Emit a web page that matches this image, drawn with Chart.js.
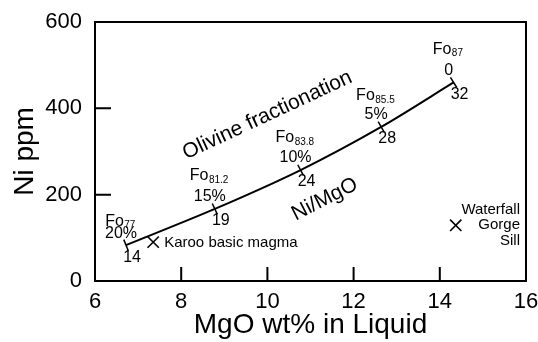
<!DOCTYPE html>
<html>
<head>
<meta charset="utf-8">
<script src="https://cdn.jsdelivr.net/npm/chart.js@4.4.1/dist/chart.umd.min.js"></script>
<style>
  html, body { margin: 0; padding: 0; background: #fff; }
  #wrap { width: 538px; height: 342px; }
</style>
</head>
<body>
<div id="wrap"><canvas id="niChart" width="538" height="342"></canvas></div>
<script>
// ---------------- data ----------------
var mgo = [6.72, 8.78, 10.77, 12.64, 14.32];
var ni = [83, 167, 257, 357, 460];
var foNumbers = ["77", "81.2", "83.8", "85.5", "87"];
var fractionation = ["20%", "15%", "10%", "5%", "0"];
var niMgoRatio = ["14", "19", "24", "28", "32"];

var sampleNames = ["Karoo basic magma", "Waterfall Gorge Sill"];
var sampleMgo = [7.35, 14.37];
var sampleNi = [90, 129];

var xTicks = [6, 8, 10, 12, 14, 16];
var yTicks = [0, 200, 400, 600];

var FONT = "'Liberation Sans', Arial, Helvetica, sans-serif";

// ---------------- frame, inward ticks and text labels ----------------
var framePlugin = {
    id: "frame",
    afterDatasetsDraw: function (chart) {
        var c = chart.ctx;
        var a = chart.chartArea;
        var xs = chart.scales.x, ys = chart.scales.y;
        c.save();
        c.strokeStyle = "#000";
        c.lineWidth = 2;
        c.strokeRect(a.left, a.top, a.right - a.left, a.bottom - a.top);

        // inward ticks
        c.beginPath();
        xTicks.slice(1, -1).forEach(function (v) {
            var px = xs.getPixelForValue(v);
            c.moveTo(px, a.bottom);
            c.lineTo(px, a.bottom - 14);
        });
        yTicks.slice(1, -1).forEach(function (v) {
            var py = ys.getPixelForValue(v);
            c.moveTo(a.left, py);
            c.lineTo(a.left + 16, py);
        });
        c.stroke();

        c.fillStyle = "#000";
        c.textBaseline = "middle";

        // Fo / % / ratio labels around each point of the curve
        var pts = chart.getDatasetMeta(0).data;
        var foDy = [-24, -33, -32, -31, -33];
        pts.forEach(function (p, i) {
            c.font = "16px " + FONT;
            var w1 = c.measureText("Fo").width;
            c.font = "10px " + FONT;
            var w2 = c.measureText(foNumbers[i]).width;
            var x0 = p.x - 6 - (w1 + w2) / 2;
            var y0 = p.y + foDy[i];
            c.textAlign = "left";
            c.font = "16px " + FONT;
            c.fillText("Fo", x0, y0);
            c.font = "10px " + FONT;
            c.fillText(foNumbers[i], x0 + w1 + 0.5, y0 + 4);

            c.textAlign = "center";
            c.font = "16px " + FONT;
            c.fillText(fractionation[i], p.x - 5, p.y - 12);
            c.fillText(niMgoRatio[i], p.x + 6, p.y + 12);
        });

        // sample names
        var s = chart.getDatasetMeta(1).data;
        c.font = "15px " + FONT;
        c.textAlign = "left";
        c.fillText(sampleNames[0], s[0].x + 11, s[0].y + 1);
        c.textAlign = "right";
        var parts = sampleNames[1].split(" ");
        var rx = a.right - 6;
        c.fillText(parts[0], rx, s[1].y - 15);
        c.fillText(parts[1], rx, s[1].y);
        c.fillText(parts[2], rx, s[1].y + 16);

        // rotated curve labels
        c.textAlign = "center";
        c.font = "21px " + FONT;
        c.save();
        c.translate(xs.getPixelForValue(10.0), ys.getPixelForValue(384));
        c.rotate(-25 * Math.PI / 180);
        c.fillText("Olivine fractionation", 0, 0);
        c.restore();
        c.save();
        c.translate(xs.getPixelForValue(11.33), ys.getPixelForValue(189));
        c.rotate(-27 * Math.PI / 180);
        c.fillText("Ni/MgO", 0, 0);
        c.restore();

        c.restore();
    }
};

var ctx = document.getElementById("niChart");

new Chart(ctx, {
    type: "scatter",
    data: {
        datasets: [
            {
                label: "Olivine fractionation",
                data: mgo.map(function (v, i) { return { x: v, y: ni[i] }; }),
                showLine: true,
                borderColor: "#000",
                borderWidth: 2,
                tension: 0.3,
                pointStyle: "line",
                pointRadius: 6,
                pointBorderWidth: 1.5,
                pointBorderColor: "#000",
                pointRotation: [68, 65, 62, 60, 58]
            },
            {
                label: "Samples",
                data: sampleMgo.map(function (v, i) { return { x: v, y: sampleNi[i] }; }),
                showLine: false,
                pointStyle: "crossRot",
                pointRadius: 8,
                pointBorderWidth: 1.6,
                pointBorderColor: "#000"
            }
        ]
    },
    options: {
        responsive: false,
        animation: false,
        layout: {
            padding: { left: 0, right: 12, top: 22, bottom: 0 }
        },
        plugins: {
            legend: { display: false },
            tooltip: { enabled: false }
        },
        scales: {
            x: {
                type: "linear",
                min: 6,
                max: 16,
                afterBuildTicks: function (scale) {
                    scale.ticks = xTicks.map(function (v) { return { value: v }; });
                },
                afterFit: function (scale) {
                    scale.height = 61;
                    scale.paddingLeft = 0;
                    scale.paddingRight = 0;
                },
                grid: { display: false, drawTicks: false },
                border: { display: false },
                ticks: {
                    color: "#000",
                    padding: 8,
                    font: { family: FONT, size: 22 }
                },
                title: {
                    display: true,
                    text: "MgO wt% in Liquid",
                    color: "#000",
                    padding: { top: 0, bottom: 0 },
                    font: { family: FONT, size: 28 }
                }
            },
            y: {
                type: "linear",
                min: 0,
                max: 600,
                afterBuildTicks: function (scale) {
                    scale.ticks = yTicks.map(function (v) { return { value: v }; });
                },
                afterFit: function (scale) {
                    scale.width = 95;
                    scale.paddingTop = 0;
                    scale.paddingBottom = 0;
                },
                grid: { display: false, drawTicks: false },
                border: { display: false },
                ticks: {
                    color: "#000",
                    padding: 13,
                    font: { family: FONT, size: 22 }
                },
                title: {
                    display: true,
                    text: "Ni ppm",
                    color: "#000",
                    padding: { top: 8, bottom: 0 },
                    font: { family: FONT, size: 28 }
                }
            }
        }
    },
    plugins: [framePlugin]
});
</script>
</body>
</html>
